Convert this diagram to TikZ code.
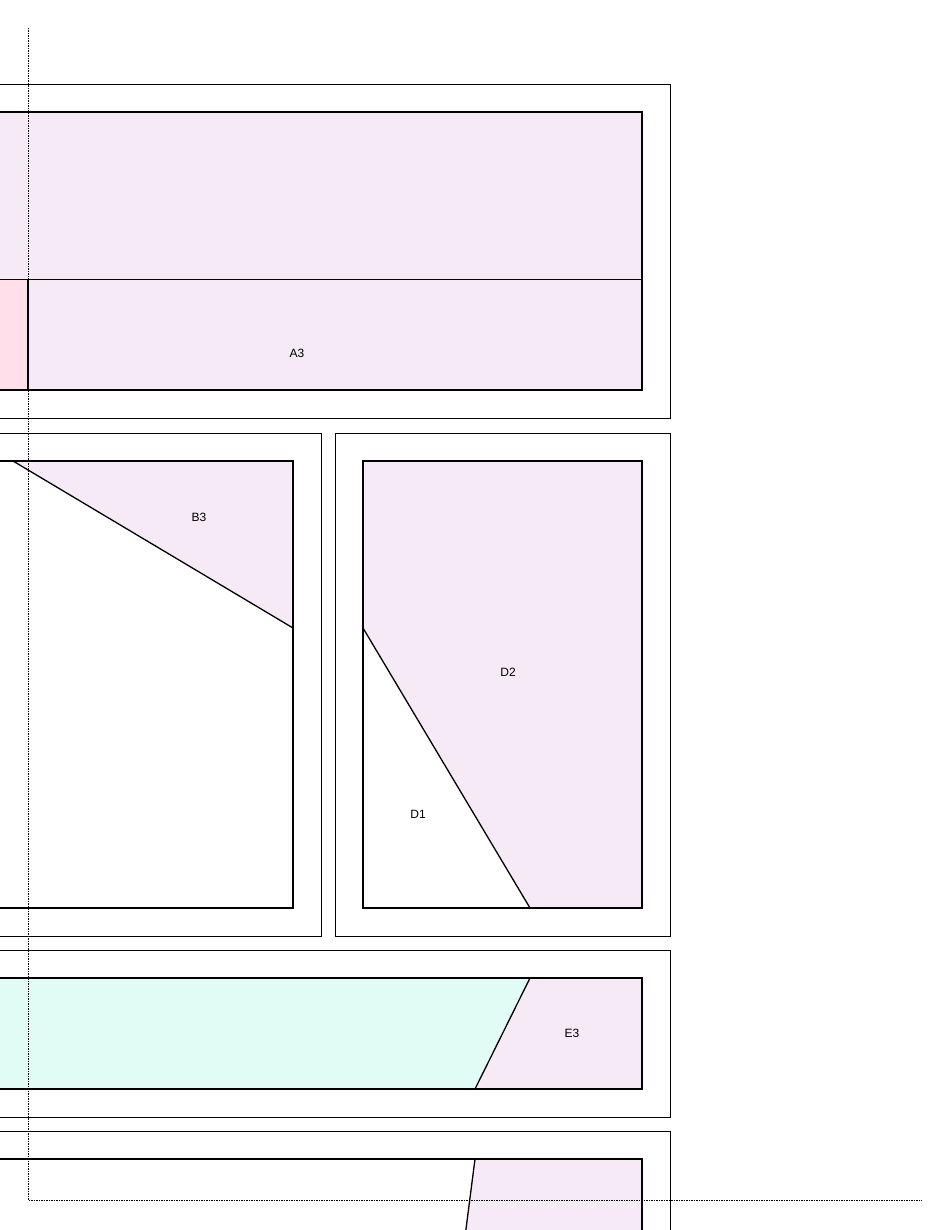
\documentclass[tikz,border=0pt]{standalone}
\usepackage{fontspec}
\setmainfont{Liberation Sans}
\usetikzlibrary{positioning}
\definecolor{lavender}{HTML}{F5EAF5}
\definecolor{blush}{HTML}{FFE0EA}
\definecolor{mint}{HTML}{E0FCF4}
\tikzset{
  frame/.style={draw, line width=0.7pt},
  part/.style={draw, line width=1.3pt, line join=miter},
  cut/.style={draw, line width=1.3pt},
  guide/.style={draw, dash pattern=on 1.5pt off 1pt, line width=0.8pt},
  tag/.style={font=\fontsize{12}{14}\selectfont, inner sep=0pt}
}
\begin{document}
\begin{tikzpicture}[x=1pt, y=-1pt]
        \clip (0,0) rectangle (950,1230);
        \fill[white] (0,0) rectangle (950,1230);

        % Panel A
        \draw[frame] (-20,84) rectangle (670,418);
        \fill[lavender] (-20,112) rectangle (642,390);
        \fill[blush] (-20,279) rectangle (28,390);
        \draw[line width=0.8pt] (-20,279) -- (642,279);
        \draw[cut] (28,279) -- (28,390);
        \draw[part] (-20,112) rectangle (642,390);
        \node[tag] (a3) at (297,353) {A3};

        % Panel B
        \draw[frame] (-20,433) rectangle (321,936);
        \fill[lavender] (13,461) -- (293,461) -- (293,628) -- cycle;
        \draw[cut] (13,461) -- (293,628);
        \draw[part] (-20,461) rectangle (293,908);
        \node[tag] (b3) at (199,517) {B3};

        % Panel D
        \draw[frame] (335,433) rectangle (670,936);
        \fill[lavender] (363,461) -- (642,461) -- (642,908) -- (530,908) -- (363,628) -- cycle;
        \draw[cut] (363,628) -- (530,908);
        \draw[part] (363,461) rectangle (642,908);
        \node[tag] (d2) at (508,672) {D2};
        \node[tag] (d1) at (418,814) {D1};

        % Panel E
        \draw[frame] (-20,950) rectangle (670,1117);
        \fill[mint] (-20,978) -- (530,978) -- (475,1089) -- (-20,1089) -- cycle;
        \fill[lavender] (530,978) -- (642,978) -- (642,1089) -- (475,1089) -- cycle;
        \draw[cut] (530,978) -- (475,1089);
        \draw[part] (-20,978) rectangle (642,1089);
        \node[tag] (e3) at (572,1033) {E3};

        % Panel F
        \draw[frame] (-20,1131) rectangle (670,1260);
        \fill[lavender] (475,1159) -- (642,1159) -- (642,1260) -- (462,1260) -- cycle;
        \draw[cut] (475,1159) -- (462,1260);
        \draw[part] (-20,1159) rectangle (642,1260);

        % Guides
        \coordinate (gtop) at (28,28);
        \coordinate (gcorner) at (28,1200);
        \coordinate (gright) at (922,1200);
        \draw[guide] (gtop) -- (gcorner) -- (gright);
    \end{tikzpicture}
\end{document}
